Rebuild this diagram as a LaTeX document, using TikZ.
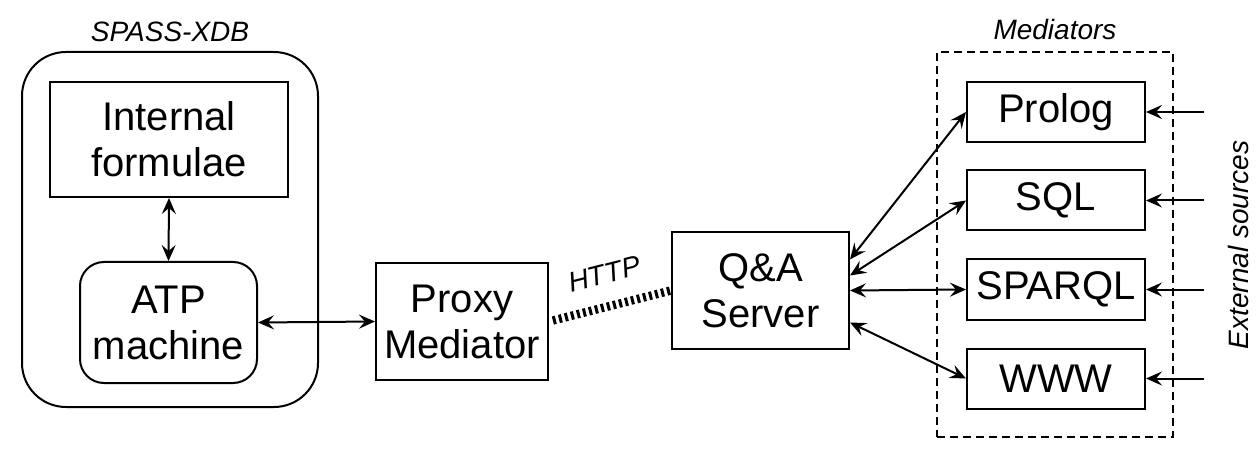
\documentclass[tikz,border=0pt]{standalone}
\usepackage{fontspec}
\setmainfont{Liberation Sans}
\usetikzlibrary{arrows.meta,positioning}

\begin{document}
\begin{tikzpicture}[
  x=0.5pt,y=-0.5pt,
  font=\fontsize{20}{23}\selectfont,
  line join=miter,
  >={Stealth[length=8pt,width=7pt,inset=3pt]},
  box/.style={draw,line width=1pt,align=center,inner sep=0pt},
  softbox/.style={box,rounded corners=12pt},
  medbox/.style={box,minimum width=89pt,minimum height=30pt},
  link/.style={line width=1pt,<->},
  feed/.style={line width=1pt,->},
  tag/.style={font=\itshape\fontsize{14}{16}\selectfont}
]
\useasboundingbox (0,0) rectangle (1260,460);

% SPASS-XDB with its two parts
\node[box,rounded corners=22pt,minimum width=148pt,minimum height=177.5pt] (spass) at (170,229.5) {};
\node[tag,above=1pt of spass] (spasstag) {SPASS-XDB};
\node[box,minimum width=119pt,minimum height=57.5pt] (internal) at (169,139.5) {Internal\\formulae};
\node[softbox,minimum width=88.5pt,minimum height=60.5pt] (atp) at (168.5,322.5) {ATP\\machine};
\draw[link] (internal.south) -- (atp.north);

% Proxy and server, joined over HTTP
\node[box,minimum width=86pt,minimum height=58.5pt] (proxy) at (462,321.5) {Proxy\\Mediator};
\node[box,minimum width=88.5pt,minimum height=58.5pt] (qa) at (760.5,290.5) {Q\&A\\Server};
\draw[link] (atp.east) -- (proxy.west);
\draw[line width=4.2pt,dash pattern=on 1.5pt off 1.6pt,shorten <=2pt]
  (proxy.east) -- node[tag,sloped,above=6pt,pos=0.52] (httptag) {HTTP} (qa.west);

% Mediators
\node[box,dash pattern=on 4pt off 2.5pt,minimum width=118pt,minimum height=192.5pt] (mediators) at (1055,244.5) {};
\node[tag,above=2pt of mediators] (medtag) {Mediators};
\node[medbox] (prolog) at (1056,112) {Prolog};
\node[medbox] (sql) at (1056,200.5) {SQL};
\node[medbox] (sparql) at (1056,289.5) {SPARQL};
\node[medbox] (www) at (1056,378.5) {WWW};

\draw[link] ([yshift=15.5pt]qa.east) -- (prolog.west);
\draw[link] ([yshift=7.5pt]qa.east) -- (sql.west);
\draw[link] (qa.east) -- (sparql.west);
\draw[link] ([yshift=-16pt]qa.east) -- (www.west);

% External sources feed each mediator
\coordinate (prologsrc) at ([xshift=29pt]prolog.east);
\coordinate (sqlsrc) at ([xshift=29pt]sql.east);
\coordinate (sparqlsrc) at ([xshift=29pt]sparql.east);
\coordinate (wwwsrc) at ([xshift=29pt]www.east);
\draw[feed] (prologsrc) -- (prolog.east);
\draw[feed] (sqlsrc) -- (sql.east);
\draw[feed] (sparqlsrc) -- (sparql.east);
\draw[feed] (wwwsrc) -- (www.east);
\node[tag,rotate=90] (srctag) at (1238,245) {External sources};

\end{tikzpicture}
\end{document}
